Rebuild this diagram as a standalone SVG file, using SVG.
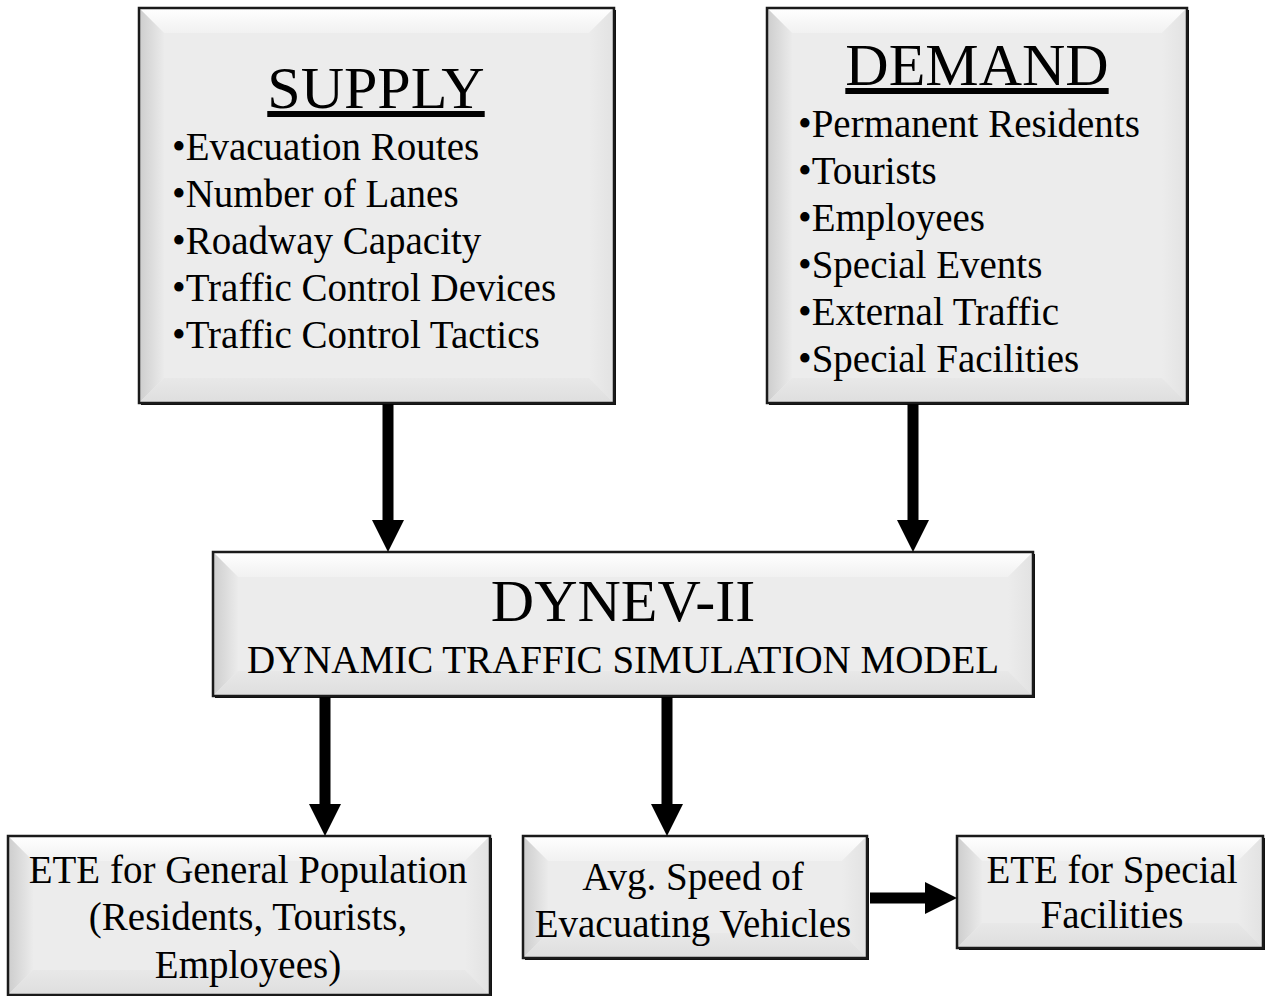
<svg xmlns="http://www.w3.org/2000/svg" width="1271" height="996" viewBox="0 0 1271 996">
<defs>
<linearGradient id="gTop" x1="0" y1="0" x2="0" y2="1"><stop offset="0" stop-color="#ffffff"/><stop offset="1" stop-color="#f1f1f1"/></linearGradient>
<linearGradient id="gLeft" x1="0" y1="0" x2="1" y2="0"><stop offset="0" stop-color="#cdcdcd"/><stop offset="1" stop-color="#ebebeb"/></linearGradient>
<linearGradient id="gRight" x1="0" y1="0" x2="1" y2="0"><stop offset="0" stop-color="#ececec"/><stop offset="1" stop-color="#e2e2e2"/></linearGradient>
<linearGradient id="gBot" x1="0" y1="0" x2="0" y2="1"><stop offset="0" stop-color="#e8e8e8"/><stop offset="1" stop-color="#dedede"/></linearGradient>
<marker id="ah" markerUnits="userSpaceOnUse" markerWidth="32" markerHeight="32" refX="0" refY="16" orient="auto"><path d="M0,0 L32,16 L0,32 Z" fill="#000"/></marker>
<style>
.face{fill:#ececec}
.top{fill:url(#gTop)}
.left{fill:url(#gLeft)}
.right{fill:url(#gRight)}
.bot{fill:url(#gBot)}
.shadow{fill:#111}
.border{fill:none;stroke:#1a1a1a;stroke-width:2.5}
text{font-family:"Liberation Serif","Times New Roman",serif;fill:#000}
.t{font-size:39px}
.h{font-size:60px}
.c{text-anchor:middle}
.conn line{stroke:#000;stroke-width:11;marker-end:url(#ah)}
</style>
</defs>

<g id="supply">
<rect class="shadow" x="141" y="10" width="475" height="395"/>
<rect class="face" x="139" y="8" width="475" height="395"/>
<polygon class="top" points="139,8 614,8 589,33 164,33"/>
<polygon class="left" points="139,8 164,33 164,378 139,403"/>
<polygon class="right" points="614,8 614,403 589,378 589,33"/>
<polygon class="bot" points="139,403 164,378 589,378 614,403"/>
<rect class="border" x="139" y="8" width="475" height="395"/>
<text class="h c" x="376" y="108" text-decoration="underline">SUPPLY</text>
<text class="t" x="172" y="160">•Evacuation Routes</text>
<text class="t" x="172" y="207">•Number of Lanes</text>
<text class="t" x="172" y="254">•Roadway Capacity</text>
<text class="t" x="172" y="301">•Traffic Control Devices</text>
<text class="t" x="172" y="348">•Traffic Control Tactics</text>
</g>

<g id="demand">
<rect class="shadow" x="769" y="10" width="420" height="395"/>
<rect class="face" x="767" y="8" width="420" height="395"/>
<polygon class="top" points="767,8 1187,8 1162,33 792,33"/>
<polygon class="left" points="767,8 792,33 792,378 767,403"/>
<polygon class="right" points="1187,8 1187,403 1162,378 1162,33"/>
<polygon class="bot" points="767,403 792,378 1162,378 1187,403"/>
<rect class="border" x="767" y="8" width="420" height="395"/>
<text class="h c" x="977" y="85" text-decoration="underline">DEMAND</text>
<text class="t" x="798" y="137">•Permanent Residents</text>
<text class="t" x="798" y="184">•Tourists</text>
<text class="t" x="798" y="231">•Employees</text>
<text class="t" x="798" y="278">•Special Events</text>
<text class="t" x="798" y="325">•External Traffic</text>
<text class="t" x="798" y="372">•Special Facilities</text>
</g>

<g id="dynev">
<rect class="shadow" x="215" y="554" width="820" height="144"/>
<rect class="face" x="213" y="552" width="820" height="144"/>
<polygon class="top" points="213,552 1033,552 1008,577 238,577"/>
<polygon class="left" points="213,552 238,577 238,671 213,696"/>
<polygon class="right" points="1033,552 1033,696 1008,671 1008,577"/>
<polygon class="bot" points="213,696 238,671 1008,671 1033,696"/>
<rect class="border" x="213" y="552" width="820" height="144"/>
<text class="h c" x="623" y="621">DYNEV-II</text>
<text class="t c" x="623" y="673">DYNAMIC TRAFFIC SIMULATION MODEL</text>
</g>

<g id="ete-general">
<rect class="shadow" x="10" y="838" width="482" height="159"/>
<rect class="face" x="8" y="836" width="482" height="159"/>
<polygon class="top" points="8,836 490,836 465,861 33,861"/>
<polygon class="left" points="8,836 33,861 33,970 8,995"/>
<polygon class="right" points="490,836 490,995 465,970 465,861"/>
<polygon class="bot" points="8,995 33,970 465,970 490,995"/>
<rect class="border" x="8" y="836" width="482" height="159"/>
<text class="t c" x="248" y="883">ETE for General Population</text>
<text class="t c" x="248" y="930">(Residents, Tourists,</text>
<text class="t c" x="248" y="978">Employees)</text>
</g>

<g id="avg-speed">
<rect class="shadow" x="525" y="838" width="344" height="122"/>
<rect class="face" x="523" y="836" width="344" height="122"/>
<polygon class="top" points="523,836 867,836 842,861 548,861"/>
<polygon class="left" points="523,836 548,861 548,933 523,958"/>
<polygon class="right" points="867,836 867,958 842,933 842,861"/>
<polygon class="bot" points="523,958 548,933 842,933 867,958"/>
<rect class="border" x="523" y="836" width="344" height="122"/>
<text class="t c" x="693" y="890">Avg. Speed of</text>
<text class="t c" x="693" y="937">Evacuating Vehicles</text>
</g>

<g id="ete-special">
<rect class="shadow" x="959" y="838" width="306" height="112"/>
<rect class="face" x="957" y="836" width="306" height="112"/>
<polygon class="top" points="957,836 1263,836 1238,861 982,861"/>
<polygon class="left" points="957,836 982,861 982,923 957,948"/>
<polygon class="right" points="1263,836 1263,948 1238,923 1238,861"/>
<polygon class="bot" points="957,948 982,923 1238,923 1263,948"/>
<rect class="border" x="957" y="836" width="306" height="112"/>
<text class="t c" x="1112" y="883">ETE for Special</text>
<text class="t c" x="1112" y="928">Facilities</text>
</g>

<g id="connectors" class="conn">
<line x1="388" y1="404" x2="388" y2="520"/>
<line x1="913" y1="404" x2="913" y2="520"/>
<line x1="325" y1="697" x2="325" y2="804"/>
<line x1="667" y1="697" x2="667" y2="804"/>
<line x1="870" y1="898" x2="925" y2="898"/>
</g>
</svg>
